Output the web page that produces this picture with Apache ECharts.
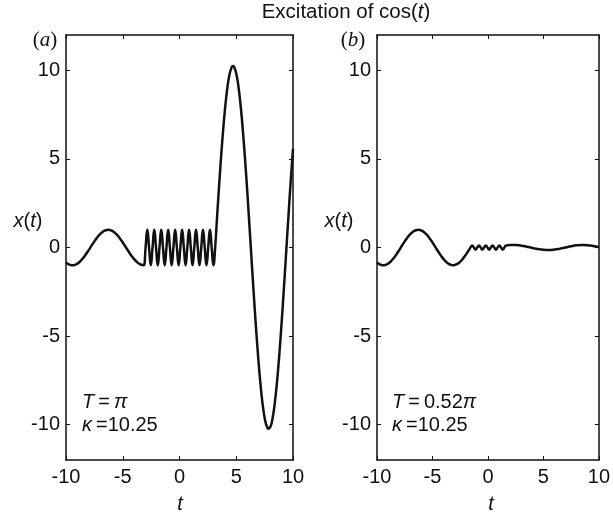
<!DOCTYPE html>
<html>
<head>
<meta charset="utf-8">
<script src="https://cdn.jsdelivr.net/npm/echarts@6/dist/echarts.min.js"></script>
<style>
  html, body { margin: 0; padding: 0; background: #fff; }
  #chart { width: 613px; height: 517px; }
</style>
</head>
<body>
<div id="chart"></div>
<script>
// tick labels
var xTicks = [-10, -5, 0, 5, 10];
var yTicks = [-10, -5, 0, 5, 10];

// free motion cos(t) before the excitation starts
var preA = [[-10, -0.8391], [-9.75, -0.9474], [-9.5, -0.9972], [-9.25, -0.9847], [-9, -0.9111],
  [-8.75, -0.7806], [-8.5, -0.602], [-8.25, -0.386], [-8, -0.1455], [-7.75, 0.1037],
  [-7.5, 0.3466], [-7.25, 0.5685], [-7, 0.7539], [-6.75, 0.893], [-6.5, 0.9766],
  [-6.25, 0.9994], [-6, 0.9602], [-5.75, 0.8612], [-5.5, 0.7087], [-5.25, 0.5117],
  [-5, 0.2837], [-4.75, 0.0376], [-4.5, -0.2108], [-4.25, -0.4461], [-4, -0.6536],
  [-3.75, -0.8206], [-3.5, -0.9365], [-3.25, -0.9942]];

// panel (a): T = pi
var driveA = [[-3.1416, -1], [-2.9884, 0], [-2.8351, 1], [-2.6819, 0], [-2.5286, -1], [-2.3754, 0],
  [-2.2221, 1], [-2.0689, 0], [-1.9156, -1], [-1.7624, 0], [-1.6091, 1], [-1.4559, 0],
  [-1.3026, -1], [-1.1494, 0], [-0.9961, 1], [-0.8429, 0], [-0.6896, -1], [-0.5364, 0],
  [-0.3831, 1], [-0.2299, 0], [-0.0766, -1], [0.0766, 0], [0.2299, 1], [0.3831, 0],
  [0.5364, -1], [0.6896, 0], [0.8429, 1], [0.9961, 0], [1.1494, -1], [1.3026, 0],
  [1.4559, 1], [1.6091, 0], [1.7624, -1], [1.9156, 0], [2.0689, 1], [2.2221, 0],
  [2.3754, -1], [2.5286, 0], [2.6819, 1], [2.8351, 0], [2.9884, -1], [3.1416, 0]];
var postA = [[3.3, 1.617], [3.4, 2.619], [3.6, 4.536], [3.8, 6.272], [4.0, 7.757], [4.2, 8.934],
  [4.4, 9.754], [4.6, 10.185], [4.7124, 10.25], [4.8, 10.211], [5.0, 9.829], [5.2, 9.056],
  [5.4, 7.921], [5.6, 6.471], [5.8, 4.762], [6.0, 2.864], [6.2, 0.852], [6.4, -1.194],
  [6.6, -3.193], [6.8, -5.065], [7.0, -6.734], [7.2, -8.135], [7.4, -9.212], [7.6, -9.921],
  [7.8, -10.235], [7.854, -10.25], [8.0, -10.141], [8.2, -9.642], [8.4, -8.76], [8.6, -7.528],
  [8.8, -5.995], [9.0, -4.224], [9.2, -2.285], [9.4, -0.254], [9.6, 1.787], [9.8, 3.757],
  [10.0, 5.576]];

// panel (b): T = 0.52 pi
var preBTail = [[-3.1416, -1], [-3.0, -0.99], [-2.75, -0.9243], [-2.5, -0.8011], [-2.25, -0.6282],
  [-2.0, -0.4161], [-1.75, -0.1782], [-1.6336, -0.0628]];
var driveB = [[-1.5777, 0], [-1.4245, 0.1159], [-1.2712, 0], [-1.118, -0.1159], [-0.9647, 0],
  [-0.8115, 0.1159], [-0.6582, 0], [-0.505, -0.1159], [-0.3517, 0], [-0.1985, 0.1159],
  [-0.0452, 0], [0.108, -0.1159], [0.2613, 0], [0.4145, 0.1159], [0.5678, 0],
  [0.721, -0.1159], [0.8743, 0], [1.0275, 0.1159], [1.1808, 0], [1.334, -0.1159],
  [1.4873, 0], [1.6336, 0.1156]];
var postB = [[2.0, 0.1377], [2.5, 0.1383], [3.0, 0.105], [3.5, 0.0461], [4.0, -0.0242],
  [4.5, -0.0885], [5.0, -0.1312], [5.5, -0.1418], [6.0, -0.1176], [6.5, -0.0646],
  [7.0, 0.0041], [7.5, 0.072], [8.0, 0.1221], [8.5, 0.1423], [9.0, 0.1278],
  [9.5, 0.0818], [10.0, 0.016]];

var FONT = '"Liberation Sans", Arial, sans-serif';
var SERIF = '"Liberation Serif", "Times New Roman", serif';
var INK = '#111';
var FS = 20;

function xAx(grid, pos) {
  return {
    type: 'value', gridIndex: grid, position: pos, min: -10, max: 10,
    axisLine: { show: true, onZero: false, lineStyle: { color: INK, width: 1.5 } },
    axisTick: { show: true, inside: true, length: 4, customValues: xTicks, lineStyle: { color: INK, width: 1 } },
    axisLabel: { show: pos === 'bottom', customValues: xTicks, margin: 7, fontSize: FS, fontFamily: FONT, color: INK },
    splitLine: { show: false }
  };
}
function yAx(grid, pos) {
  return {
    type: 'value', gridIndex: grid, position: pos, min: -12, max: 12,
    axisLine: { show: true, onZero: false, lineStyle: { color: INK, width: 1.5 } },
    axisTick: { show: true, inside: true, length: 4, customValues: yTicks, lineStyle: { color: INK, width: 1 } },
    axisLabel: { show: pos === 'left', customValues: yTicks, margin: 6, fontSize: FS, fontFamily: FONT, color: INK },
    splitLine: { show: false }
  };
}
function txt(x, y, text, rich, align) {
  return {
    type: 'text', x: x, y: y,
    style: { text: text, rich: rich, align: align || 'center', verticalAlign: 'middle',
      font: FS + 'px ' + FONT, fill: INK }
  };
}
var richBase = {
  n: { fontFamily: FONT, fontSize: FS, color: INK },
  i: { fontFamily: FONT, fontSize: FS, fontStyle: 'italic', color: INK },
  tn: { fontFamily: FONT, fontSize: 20.5, color: INK },
  ti: { fontFamily: FONT, fontSize: 20.5, fontStyle: 'italic', color: INK },
  s: { fontFamily: SERIF, fontSize: 21, color: INK },
  si: { fontFamily: SERIF, fontSize: 21, fontStyle: 'italic', color: INK }
};

var chart = echarts.init(document.getElementById('chart'));
var option = {
  animation: false,
  backgroundColor: '#fff',
  grid: [
    { left: 66, top: 35, width: 227, height: 425 },
    { left: 377, top: 35, width: 227, height: 425 }
  ],
  xAxis: [xAx(0, 'bottom'), xAx(0, 'top'), xAx(1, 'bottom'), xAx(1, 'top')],
  yAxis: [yAx(0, 'left'), yAx(0, 'right'), yAx(1, 'left'), yAx(1, 'right')],
  series: [
    {
      type: 'line', xAxisIndex: 0, yAxisIndex: 0, showSymbol: false, smooth: true,
      lineStyle: { color: INK, width: 2.5 },
      data: preA.concat(driveA, postA)
    },
    {
      type: 'line', xAxisIndex: 2, yAxisIndex: 2, showSymbol: false, smooth: true,
      lineStyle: { color: INK, width: 2.5 },
      data: preA.concat(preBTail, driveB, postB)
    }
  ],
  graphic: [
    txt(346, 12, '{tn|Excitation of cos(}{ti|t}{tn|)}', richBase),
    txt(45, 40, '{s|(}{si|a}{s|)}', richBase),
    txt(353, 40, '{s|(}{si|b}{s|)}', richBase),
    txt(28, 221, '{i|x}{n|(}{i|t}{n|)}', richBase),
    txt(339, 221, '{i|x}{n|(}{i|t}{n|)}', richBase),
    txt(180, 504, '{i|t}', richBase),
    txt(491, 504, '{i|t}', richBase),
    txt(82, 402, '{i|T}{n|\u2009=\u2009}{i|\u03c0}', richBase, 'left'),
    txt(82, 425, '{i|\u03ba}{n|\u2009=10.25}', richBase, 'left'),
    txt(392, 402, '{i|T}{n|\u2009=\u20090.52}{i|\u03c0}', richBase, 'left'),
    txt(392, 425, '{i|\u03ba}{n|\u2009=10.25}', richBase, 'left')
  ]
};
chart.setOption(option);
</script>
</body>
</html>
